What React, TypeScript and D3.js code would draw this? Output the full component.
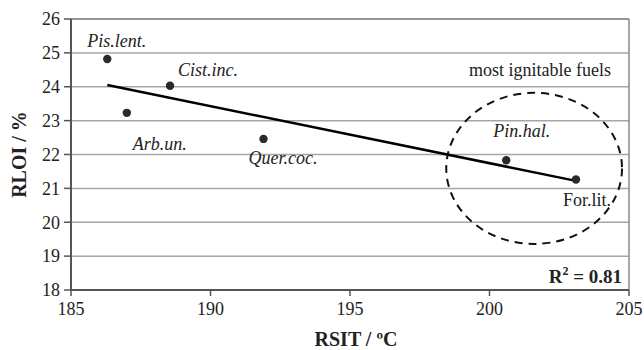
import React from "react";
import * as d3 from "d3";

const species = ["Pis.lent.", "Arb.un.", "Cist.inc.", "Quer.coc.", "Pin.hal.", "For.lit."];
const rsit = [186.3, 187.0, 188.55, 191.9, 200.6, 203.1];
const rloi = [24.82, 23.23, 24.03, 22.46, 21.83, 21.26];
const italicLabel = [true, true, true, true, true, false];
const xTicks = [185, 190, 195, 200, 205];
const yTicks = [18, 19, 20, 21, 22, 23, 24, 25, 26];
const r2Text = "0.81";
const annotationText = "most ignitable fuels";
// ellipse enclosing the most ignitable fuels (data units)
const ellipseCenter = [201.6, 21.59];
const ellipseRadii = [3.15, 2.23];

const labelOffsets: [number, number][] = [
  [-20, -12],
  [6, 37],
  [8, -10],
  [-15, 25],
  [-13, -23],
  [-13, 26],
];

const W = 644;
const H = 350;
const left = 71;
const right = 629;
const top = 19;
const bottom = 290;
const font = "Liberation Serif, Times New Roman, Times, DejaVu Serif, serif";

export default function App() {
  const x = d3.scaleLinear().domain([185, 205]).range([left, right]);
  const y = d3.scaleLinear().domain([18, 26]).range([bottom, top]);

  const mx = d3.mean(rsit)!;
  const my = d3.mean(rloi)!;
  let sxy = 0, sxx = 0;
  rsit.forEach((v, i) => {
    sxy += (v - mx) * (rloi[i] - my);
    sxx += (v - mx) * (v - mx);
  });
  const slope = sxy / sxx;
  const intercept = my - slope * mx;
  const [x0, x1] = d3.extent(rsit) as [number, number];
  const trend = d3.line<number>().x((d) => x(d)).y((d) => y(intercept + slope * d))([x0, x1])!;

  const cx = x(ellipseCenter[0]);
  const cy = y(ellipseCenter[1]);
  const rx = x(ellipseCenter[0] + ellipseRadii[0]) - cx;
  const ry = cy - y(ellipseCenter[1] + ellipseRadii[1]);
  const ts = { fontFamily: font };

  return (
    <svg width={W} height={H} style={{ position: "absolute", left: 0, top: 0, background: "#fff", fontFamily: font }}>
      {yTicks.map((t) => (
        <line key={"g" + t} x1={left} x2={right} y1={y(t)} y2={y(t)} stroke="#a6a6a6" strokeWidth={1.5} />
      ))}
      <line x1={right} x2={right} y1={top} y2={bottom} stroke="#8a8a8a" strokeWidth={1.5} />
      <line x1={left} x2={right} y1={top} y2={top} stroke="#8a8a8a" strokeWidth={1.5} />
      <line x1={left} x2={left} y1={top} y2={bottom} stroke="#555" strokeWidth={2} />
      <line x1={left} x2={right} y1={bottom} y2={bottom} stroke="#555" strokeWidth={2} />
      {yTicks.map((t) => (
        <g key={"y" + t}>
          <line x1={left - 7} x2={left} y1={y(t)} y2={y(t)} stroke="#555" strokeWidth={1.5} />
          <text style={ts} x={left - 11} y={y(t)} dy="0.35em" textAnchor="end" fontSize={18} fill="#222">
            {t}
          </text>
        </g>
      ))}
      {xTicks.map((t) => (
        <g key={"x" + t}>
          <line x1={x(t)} x2={x(t)} y1={bottom} y2={bottom + 6} stroke="#555" strokeWidth={1.5} />
          <text style={ts} x={x(t)} y={bottom + 25} textAnchor="middle" fontSize={18} fill="#222">
            {t}
          </text>
        </g>
      ))}
      <path d={trend} stroke="#000" strokeWidth={2.5} fill="none" />
      <ellipse cx={cx} cy={cy} rx={rx} ry={ry} fill="none" stroke="#111" strokeWidth={2} strokeDasharray="8 6" />
      {rsit.map((v, i) => (
        <circle key={"p" + i} cx={x(v)} cy={y(rloi[i])} r={4.2} fill="#2a2a2a" />
      ))}
      {species.map((s, i) => (
        <text
          key={"l" + i}
          style={ts}
          x={x(rsit[i]) + labelOffsets[i][0]}
          y={y(rloi[i]) + labelOffsets[i][1]}
          fontSize={18}
          fontStyle={italicLabel[i] ? "italic" : "normal"}
          fill="#222"
        >
          {s}
        </text>
      ))}
      <text style={ts} x={611} y={76} textAnchor="end" fontSize={18} fill="#222">
        {annotationText}
      </text>
      <text style={ts} x={622} y={283} textAnchor="end" fontSize={19} fontWeight="bold" fill="#222">
        R<tspan dy={-8} fontSize={12}>2</tspan>
        <tspan dy={8}> = {r2Text}</tspan>
      </text>
      <text style={ts} x={356} y={346} textAnchor="middle" fontSize={20} fontWeight="bold" fill="#222">
        RSIT / ºC
      </text>
      <text
        style={ts}
        transform={`translate(26, ${(top + bottom) / 2}) rotate(-90)`}
        textAnchor="middle"
        fontSize={20}
        fontWeight="bold"
        fill="#222"
      >
        RLOI / %
      </text>
    </svg>
  );
}
